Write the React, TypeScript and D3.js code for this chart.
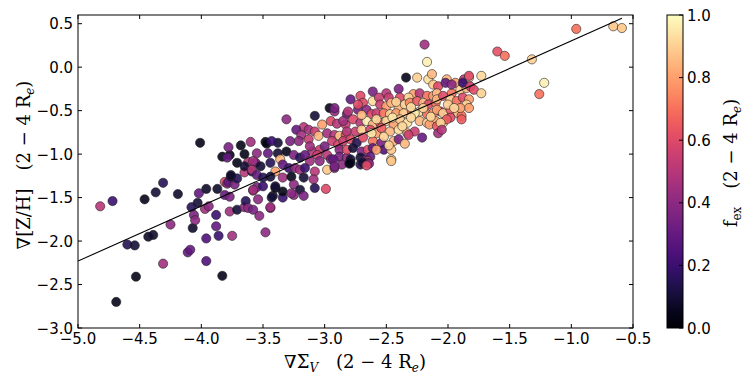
import React from "react";
import * as d3 from "d3";

// ∇Σ_V (2-4 Re)
const gradSigmaV = [
  -4.82,-4.72,-4.69,-4.60,-4.54,-4.53,-4.46,-4.43,-4.39,-4.37,
  -4.31,-4.31,-4.25,-4.19,-4.11,-4.09,-4.08,-4.07,-4.06,-4.05,
  -4.01,-4.03,-4.02,-3.97,-3.96,-3.96,-3.96,-3.94,-3.88,-3.87,
  -3.88,-3.86,-3.83,-3.83,-3.77,-3.78,-3.79,-3.81,-3.79,-3.78,
  -3.73,-3.76,-3.71,-3.81,-3.77,-3.77,-3.75,-3.71,-3.65,-3.71,
  -3.68,-3.64,-3.60,-3.65,-3.62,-3.58,-3.53,-3.48,-3.48,-3.44,
  -3.42,-3.65,-3.65,-3.56,-3.59,-3.76,-3.55,-3.62,-3.58,-2.96,
  -2.92,-3.08,-3.31,-3.02,-2.95,-2.90,-2.83,-2.82,-3.17,-3.13,
  -3.23,-3.19,-3.08,-3.05,-2.98,-2.92,-2.94,-2.88,-2.83,-3.10,
  -3.47,-3.38,-3.28,-3.21,-3.13,-3.12,-3.04,-3.00,-2.89,-2.88,
  -3.46,-3.38,-3.31,-3.55,-3.36,-3.25,-3.20,-3.16,-3.06,-2.98,
  -3.12,-3.04,-2.95,-2.88,-2.82,-3.58,-3.52,-3.59,-3.44,-3.40,
  -3.34,-3.29,-3.24,-3.20,-3.16,-3.08,-2.98,-2.92,-3.55,-3.50,
  -3.44,-3.34,-3.27,-3.17,-3.09,-3.58,-3.50,-3.40,-3.25,-3.20,
  -3.08,-2.99,-3.54,-3.43,-3.34,-3.25,-3.44,-2.17,-2.34,-2.25,
  -2.16,-2.12,-2.13,-2.08,-2.61,-2.40,-2.50,-2.28,-2.23,-2.17,
  -2.12,-2.09,-2.48,-2.39,-2.32,-2.61,-2.56,-2.71,-2.69,-2.79,
  -2.55,-2.50,-2.46,-2.40,-2.35,-2.31,-2.25,-2.20,-2.16,-2.10,
  -2.81,-2.73,-2.66,-2.62,-2.58,-2.52,-2.47,-2.42,-2.36,-2.29,
  -2.23,-2.17,-2.12,-2.06,-2.85,-2.77,-2.71,-2.66,-2.61,-2.55,
  -2.50,-2.44,-2.39,-2.33,-2.27,-2.23,-2.17,-2.10,-2.82,-2.75,
  -2.70,-2.63,-2.58,-2.54,-2.47,-2.40,-2.33,-2.27,-2.21,-2.85,
  -2.79,-2.74,-2.69,-2.61,-2.54,-2.44,-2.40,-2.82,-2.77,-2.70,
  -2.65,-2.61,-2.52,-2.46,-2.79,-2.71,-2.66,-2.46,-2.86,-2.01,
  -1.94,-1.87,-1.83,-1.97,-1.90,-1.85,-2.09,-2.04,-1.98,-1.93,
  -1.88,-1.83,-2.09,-2.04,-1.98,-1.92,-1.89,-2.15,-2.09,-2.04,
  -1.98,-2.32,-2.58,-2.63,-2.93,-2.79,-2.71,-2.65,-2.65,-3.43,
  -3.40,-3.34,-3.27,-3.17,-1.60,-1.54,-1.32,-1.73,-1.83,-2.02,
  -1.97,-1.88,-1.82,-1.79,-1.73,-1.85,-1.83,-1.90,-1.89,-2.01,
  -2.06,-2.08,-0.96,-0.66,-0.59,-1.22,-1.26,-2.05,-2.19,-2.92,
  -2.80,-2.69,-2.64,-2.66,-2.46,-2.92,-2.73,-2.58,-2.45,-2.37,
  -2.52,-2.30,-2.62,-2.20,-2.14,-2.42,-2.30,-2.00,-1.95,-2.70,
  -2.35,-2.48,
];

// ∇[Z/H] (2-4 Re)
const gradZH = [
  -1.60,-1.54,-2.70,-2.04,-2.05,-2.41,-1.52,-1.95,-1.93,-1.44,
  -1.33,-2.26,-1.81,-1.46,-2.13,-2.10,-1.61,-1.85,-1.70,-1.76,
  -0.87,-1.56,-1.45,-1.63,-1.40,-1.97,-2.23,-1.60,-1.70,-1.40,
  -1.83,-1.94,-2.40,-1.03,-1.01,-0.92,-1.04,-1.32,-1.34,-1.32,
  -1.35,-1.26,-1.28,-1.47,-1.49,-1.66,-1.94,-1.64,-1.61,-1.10,
  -0.90,-1.54,-0.86,-1.21,-1.09,-1.42,-1.71,-1.90,-0.86,-1.62,
  -1.48,-1.00,-1.14,-1.10,-1.20,-1.24,-1.38,-1.62,-1.64,-0.47,
  -0.51,-0.56,-0.60,-0.66,-0.62,-0.65,-0.66,-0.54,-0.69,-0.72,
  -0.72,-0.78,-0.74,-0.79,-0.76,-0.78,-0.85,-0.79,-0.78,-0.97,
  -0.88,-0.87,-0.85,-0.85,-0.83,-0.91,-0.95,-0.91,-0.89,-0.95,
  -0.99,-0.99,-0.97,-0.99,-1.06,-1.01,-1.04,-1.01,-1.01,-1.01,
  -1.08,-1.08,-1.06,-1.03,-1.04,-1.08,-1.14,-1.18,-1.10,-1.20,
  -1.12,-1.16,-1.16,-1.18,-1.16,-1.20,-1.18,-1.16,-1.24,-1.27,
  -1.26,-1.27,-1.26,-1.27,-1.29,-1.41,-1.37,-1.39,-1.35,-1.41,
  -1.39,-1.40,-1.52,-1.50,-1.50,-1.47,-1.61,0.06,-0.12,-0.12,
  -0.14,-0.20,-0.08,-0.22,-0.28,-0.25,-0.30,-0.31,-0.30,-0.33,
  -0.33,-0.30,-0.35,-0.35,-0.35,-0.39,-0.35,-0.33,-0.41,-0.37,
  -0.43,-0.45,-0.41,-0.47,-0.43,-0.41,-0.39,-0.41,-0.43,-0.41,
  -0.51,-0.49,-0.49,-0.54,-0.53,-0.53,-0.54,-0.53,-0.53,-0.51,
  -0.51,-0.54,-0.53,-0.51,-0.62,-0.60,-0.64,-0.62,-0.66,-0.64,
  -0.62,-0.66,-0.60,-0.64,-0.53,-0.62,-0.64,-0.62,-0.74,-0.74,
  -0.72,-0.72,-0.76,-0.70,-0.74,-0.72,-0.76,-0.74,-0.81,-0.85,
  -0.83,-0.87,-0.81,-0.85,-0.87,-0.85,-0.83,-0.95,-0.93,-0.97,
  -0.95,-0.93,-0.95,-0.95,-1.06,-1.04,-1.06,-1.06,-1.12,-0.14,
  -0.18,-0.14,-0.12,-0.30,-0.26,-0.24,-0.37,-0.33,-0.37,-0.39,
  -0.35,-0.37,-0.49,-0.53,-0.49,-0.53,-0.56,-0.66,-0.68,-0.64,
  -0.58,-0.78,-0.95,-1.03,-1.06,-1.10,-1.12,-1.08,-1.10,-0.85,
  -1.37,-1.43,-1.45,-1.48,0.18,0.13,0.09,-0.10,-0.10,-0.18,
  -0.20,-0.18,-0.22,-0.26,-0.30,-0.43,-0.47,-0.47,-0.60,-0.60,
  -0.64,-0.76,0.44,0.47,0.45,-0.18,-0.31,-0.72,0.26,-1.14,
  -1.11,-1.10,-1.11,-1.13,-1.08,-0.47,-0.43,-0.60,-0.58,-0.68,
  -0.80,-0.58,-0.76,-0.47,-0.57,-0.40,-0.46,-0.43,-0.47,-0.55,
  -0.88,-0.90,
];

// f_ex (2-4 Re)
const fEx = [
  0.5,0.2,0.05,0.15,0.1,0.05,0.05,0.08,0.08,0.1,
  0.15,0.45,0.4,0.08,0.3,0.3,0.15,0.08,0.35,0.4,
  0.05,0.1,0.3,0.45,0.08,0.25,0.25,0.4,0.2,0.08,
  0.3,0.2,0.05,0.05,0.05,0.35,0.3,0.6,0.4,0.3,
  0.35,0.1,0.15,0.3,0.35,0.45,0.45,0.1,0.4,0.05,
  0.05,0.15,0.45,0.5,0.5,0.5,0.4,0.4,0.05,0.4,
  0.1,0.05,0.1,0.3,0.15,0.08,0.35,0.4,0.35,0.05,
  0.4,0.1,0.4,0.8,0.6,0.5,0.55,0.3,0.5,0.45,
  0.3,0.45,0.55,0.85,0.45,0.5,0.55,0.88,0.6,0.5,
  0.05,0.1,0.35,0.4,0.55,0.45,0.55,0.35,0.6,0.4,
  0.3,0.1,0.05,0.4,0.85,0.35,0.15,0.3,0.55,0.5,
  0.45,0.4,0.35,0.35,0.4,0.45,0.1,0.5,0.15,0.8,
  0.3,0.2,0.4,0.45,0.2,0.5,0.88,0.35,0.3,0.15,
  0.1,0.45,0.05,0.1,0.45,0.45,0.2,0.05,0.4,0.1,
  0.15,0.6,0.4,0.1,0.2,0.4,0.45,0.97,0.05,0.9,
  0.93,0.88,0.85,0.6,0.35,0.35,0.5,0.8,0.5,0.7,
  0.8,0.85,0.55,0.6,0.9,0.93,0.55,0.6,0.6,0.3,
  0.55,0.8,0.85,0.85,0.9,0.75,0.65,0.85,0.6,0.7,
  0.5,0.35,0.4,0.6,0.55,0.7,0.9,0.8,0.88,0.7,
  0.93,0.7,0.8,0.6,0.45,0.6,0.5,0.97,0.85,0.65,
  0.9,0.8,0.88,0.93,0.97,0.85,0.9,0.8,0.5,0.55,
  0.9,0.6,0.8,0.65,0.85,0.93,0.8,0.55,0.3,0.55,
  0.6,0.15,0.6,0.7,0.35,0.85,0.35,0.6,0.1,0.35,
  0.6,0.3,0.25,0.88,0.1,0.1,0.35,0.9,0.4,0.85,
  0.8,0.5,0.9,0.7,0.9,0.85,0.85,0.6,0.9,0.7,
  0.6,0.8,0.8,0.9,0.65,0.85,0.7,0.8,0.65,0.9,
  0.6,0.55,0.8,0.3,0.3,0.05,0.15,0.55,0.4,0.2,
  0.1,0.05,0.4,0.35,0.62,0.7,0.9,0.92,0.6,0.3,
  0.4,0.2,0.55,0.6,0.9,0.9,0.8,0.8,0.65,0.65,
  0.9,0.45,0.7,0.88,0.88,0.97,0.7,0.5,0.45,0.35,
  0.05,0.1,0.4,0.6,0.88,0.35,0.6,0.92,0.95,0.92,
  0.9,0.92,0.95,0.9,0.92,0.9,0.93,0.9,0.92,0.85,
  0.85,0.9,
];

const xTicks = [-5.0, -4.5, -4.0, -3.5, -3.0, -2.5, -2.0, -1.5, -1.0, -0.5];
const yTicks = [-3.0, -2.5, -2.0, -1.5, -1.0, -0.5, 0.0, 0.5];
const cbTicks = [0.0, 0.2, 0.4, 0.6, 0.8, 1.0];
const fitSlope = 0.633;
const fitIntercept = 0.935;
const fitRange = [-5.0, -0.59];

const L = 78, R = 633, T = 15, B = 328;
const CBL = 667, CBR = 683;
const sans = "'DejaVu Sans', sans-serif";
const serif = "'DejaVu Serif', 'Liberation Serif', serif";

export default function App() {
  const x = d3.scaleLinear().domain([-5, -0.5]).range([L, R]);
  const y = d3.scaleLinear().domain([-3, 0.6]).range([B, T]);
  const cb = d3.scaleLinear().domain([0, 1]).range([B, T]);
  const color = d3.scaleSequential(d3.interpolateMagma).domain([0, 1]);
  const fmt = d3.format(".1f");
  const line = d3.line<number>().x((v) => x(v)).y((v) => y(fitIntercept + fitSlope * v));
  const stops = d3.range(0, 1.0001, 0.05);
  const pts = gradSigmaV.map((v, i) => ({ gx: v, gy: gradZH[i], f: fEx[i] }));

  return (
    <svg width={748} height={383} style={{ position: "absolute", left: 0, top: 0, background: "#fff" }}>
      <defs>
        <linearGradient id="magma" x1="0" y1="1" x2="0" y2="0">
          {stops.map((s) => (
            <stop key={s} offset={s} stopColor={color(s)} />
          ))}
        </linearGradient>
        <clipPath id="plot">
          <rect x={L} y={T} width={R - L} height={B - T} />
        </clipPath>
      </defs>
      <g clipPath="url(#plot)">
        {pts.map((p, i) => (
          <circle key={i} cx={x(p.gx)} cy={y(p.gy)} r={4.6} fill={color(p.f)} fillOpacity={0.9}
            stroke="#222" strokeWidth={0.7} strokeOpacity={0.85} />
        ))}
        <path d={line(fitRange) || ""} fill="none" stroke="#000" strokeWidth={1.1} />
      </g>
      <rect x={L} y={T} width={R - L} height={B - T} fill="none" stroke="#000" strokeWidth={1} />
      {xTicks.map((t) => (
        <g key={"x" + t}>
          <line x1={x(t)} x2={x(t)} y1={B} y2={B - 4} stroke="#000" />
          <line x1={x(t)} x2={x(t)} y1={T} y2={T + 4} stroke="#000" />
          <text x={x(t)} y={344} textAnchor="middle" fontSize={15} fontFamily={sans}>{fmt(t)}</text>
        </g>
      ))}
      {yTicks.map((t) => (
        <g key={"y" + t}>
          <line x1={L} x2={L + 4} y1={y(t)} y2={y(t)} stroke="#000" />
          <line x1={R} x2={R - 4} y1={y(t)} y2={y(t)} stroke="#000" />
          <text x={73} y={y(t) + 5.5} textAnchor="end" fontSize={15} fontFamily={sans}>{fmt(t)}</text>
        </g>
      ))}
      <text transform={`translate(30,165) rotate(-90)`} textAnchor="middle" fontSize={18} fontFamily={serif}>
        ∇[Z/H]<tspan dx={18}>(2 − 4 R</tspan><tspan dy={4} fontSize={12} fontStyle="italic">e</tspan><tspan dy={-4}>)</tspan>
      </text>
      <text x={355} y={368} textAnchor="middle" fontSize={18} fontFamily={serif}>
        ∇Σ<tspan dy={4} fontSize={12} fontStyle="italic">V</tspan><tspan dy={-4} dx={18}>(2 − 4 R</tspan><tspan dy={4} fontSize={12} fontStyle="italic">e</tspan><tspan dy={-4}>)</tspan>
      </text>
      <rect x={CBL} y={T} width={CBR - CBL} height={B - T} fill="url(#magma)" stroke="#000" strokeWidth={1} />
      {cbTicks.map((t) => (
        <g key={"c" + t}>
          <line x1={CBR} x2={CBR - 4} y1={cb(t)} y2={cb(t)} stroke="#000" />
          <text x={687} y={cb(t) + 5.5} fontSize={15} fontFamily={sans}>{fmt(t)}</text>
        </g>
      ))}
      <text transform={`translate(737,163) rotate(-90)`} textAnchor="middle" fontSize={18} fontFamily={serif}>
        f<tspan dy={4} fontSize={12}>ex</tspan><tspan dy={-4} dx={18}>(2 − 4 R</tspan><tspan dy={4} fontSize={12} fontStyle="italic">e</tspan><tspan dy={-4}>)</tspan>
      </text>
    </svg>
  );
}
